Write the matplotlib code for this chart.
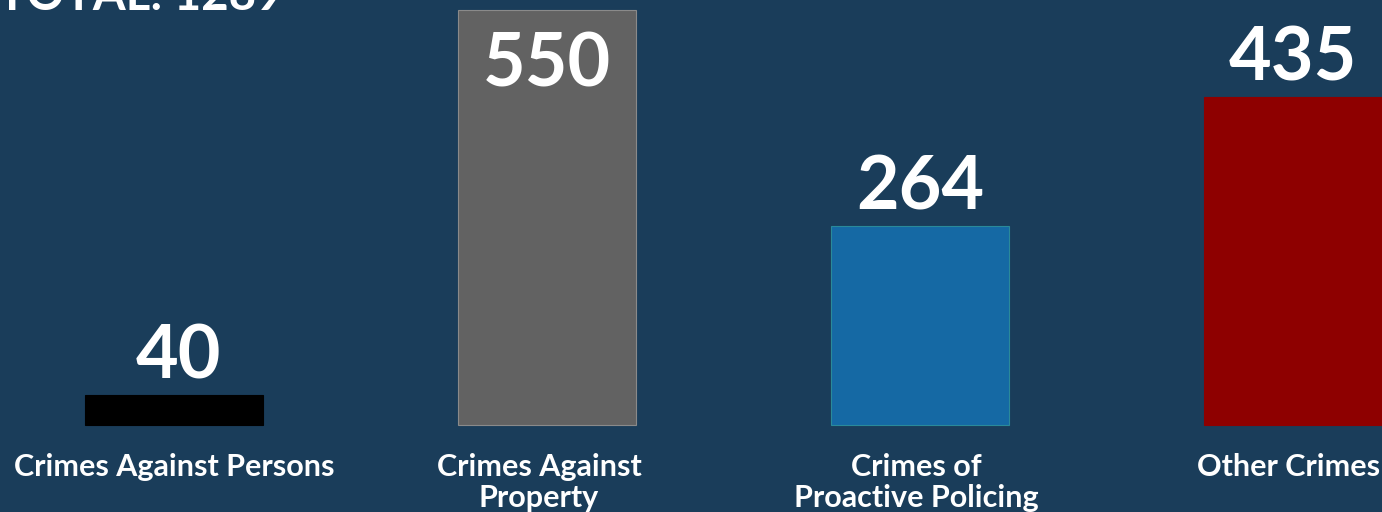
import matplotlib
matplotlib.use("Agg")
import matplotlib.pyplot as plt

categories = ["Crimes Against Persons", "Crimes Against\nProperty",
              "Crimes of\nProactive Policing", "Other Crimes"]
values = [40, 550, 264, 435]
colors = ["#000000", "#626262", "#1569a4", "#8e0000"]
edges = ["#000000", "#8a8a8a", "#2a8a9a", "#8e0000"]
title = "TOTAL: 1289"

BG = "#1a3d5a"
FONT = ["Lato", "DejaVu Sans"]

fig = plt.figure(figsize=(13.82, 5.12), dpi=100, facecolor=BG)
ax = fig.add_axes([0, 0, 1, 1], facecolor=BG)
ax.set_xlim(-174 / 373, (1382 - 174) / 373)
ax.set_ylim(-87 / 0.7545, (512 - 87) / 0.7545)
ax.axis("off")

x = list(range(len(values)))
bars = ax.bar(x, values, width=178 / 373, color=colors, edgecolor=edges, linewidth=0.8)

for i, (b, v) in enumerate(zip(bars, values)):
    inside = v > 500
    dy = -76 if inside else 16
    ax.annotate(str(v), (b.get_x() + b.get_width() / 2, v),
                xytext=(4 if i == 0 else 0, dy), textcoords="offset pixels",
                ha="center", va="baseline", color="white", fontsize=53,
                fontweight="bold", family=FONT)

for i, c in enumerate(categories):
    ax.annotate(c, (i, 0), xytext=(-8 if i == 1 else (-4 if i in (2, 3) else 0), -28),
                textcoords="offset pixels", ha="center", va="top",
                color="white", fontsize=22, fontweight="bold", family=FONT,
                linespacing=1.12)

fig.text(-2 / 1382, 1 - 10 / 512, title, ha="left", va="baseline", color="white",
         fontsize=34, fontweight="bold", family=FONT)

fig.savefig("out.png", dpi=100, facecolor=BG)
